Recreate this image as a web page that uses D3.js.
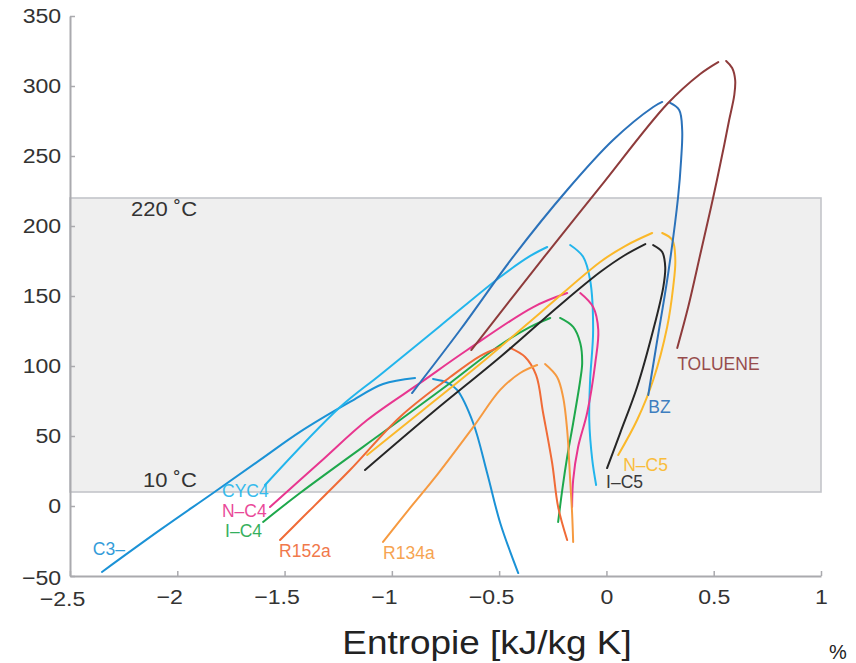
<!DOCTYPE html>
<html>
<head>
<meta charset="utf-8">
<script src="https://cdn.jsdelivr.net/npm/d3@7"></script>
<style>
  html, body { margin: 0; padding: 0; background: #fff; }
  svg { display: block; font-family: "Liberation Sans", Arial, Helvetica, sans-serif; }
</style>
</head>
<body>
<svg id="chart" width="856" height="663"></svg>
<script>
// ---------- data (entropy [kJ/kg K], temperature [°C]) ----------
const xTicks = [-2.5, -2, -1.5, -1, -0.5, 0, 0.5, 1];
const yTicks = [-50, 0, 50, 100, 150, 200, 250, 300, 350];
const bandTemps = [10, 220];
const bandLabels = ["10 ˚C", "220 ˚C"];

const c3Liquid = [[-2.351,-47.1],[-2.080,-17.1],[-1.833,9.3],[-1.614,32.9],[-1.428,52.9],[-1.195,74.3],[-1.041,87.1],[-0.892,91.4]];
const c3Vapor = [[-0.808,90.7],[-0.740,88],[-0.696,82.9],[-0.621,59.3],[-0.556,23.6],[-0.495,-12.1],[-0.411,-47.9]];

const cyc4Liquid = [[-1.591,15],[-1.241,70.7],[-1.055,93.6],[-0.775,128.6],[-0.495,163.6],[-0.355,178.6],[-0.276,185]];
const cyc4Vapor = [[-0.169,186.4],[-0.108,177.9],[-0.076,161.4],[-0.062,125.7],[-0.076,90],[-0.080,61.4],[-0.066,32.9],[-0.048,15]];

const nc4Liquid = [[-1.568,-0.7],[-1.334,31.4],[-1.115,61.4],[-0.868,87.9],[-0.649,111.4],[-0.341,142.1],[-0.183,152.1]];
const nc4Vapor = [[-0.122,152.1],[-0.062,142.1],[-0.038,125.7],[-0.052,102.1],[-0.090,66.4],[-0.132,42.1],[-0.155,18.6],[-0.160,-0.7]];

const ic4Liquid = [[-1.600,-11.4],[-1.428,9.3],[-0.962,61.4],[-0.728,87.9],[-0.495,115],[-0.355,127.9],[-0.262,134.3]];
const ic4Vapor = [[-0.216,134.3],[-0.155,127.9],[-0.122,116.4],[-0.113,102.1],[-0.122,90],[-0.155,59.3],[-0.183,35],[-0.206,11.4],[-0.225,-11.4]];

const r152aLiquid = [[-1.521,-24.3],[-1.428,-10],[-1.195,25.7],[-0.962,63.6],[-0.728,92.1],[-0.589,107.1],[-0.495,113.6]];
const r152aVapor = [[-0.449,112.9],[-0.379,106.4],[-0.328,93.6],[-0.295,66.4],[-0.253,30.7],[-0.225,-0.7],[-0.183,-24.3]];

const r134aLiquid = [[-1.041,-25.7],[-0.915,-1.4],[-0.808,18.6],[-0.621,56.4],[-0.495,82.9],[-0.402,95],[-0.323,100.7]];
const r134aVapor = [[-0.286,101.4],[-0.230,92.1],[-0.202,77.9],[-0.183,54.3],[-0.169,18.6],[-0.160,-5],[-0.155,-25.7]];

const nc5Liquid = [[-1.115,36.4],[-0.854,68.6],[-0.589,101.4],[-0.309,137.9],[-0.029,174.3],[0.087,185.7],[0.213,195]];
const nc5Vapor = [[0.260,195],[0.307,190],[0.321,175.7],[0.311,156.4],[0.283,127.9],[0.218,90],[0.143,61.4],[0.055,36.4]];

const ic5Liquid = [[-1.125,25.7],[-0.808,67.1],[-0.495,106.4],[-0.216,143.6],[-0.029,167.1],[0.087,179.3],[0.181,187.1]];
const ic5Vapor = [[0.218,186.4],[0.260,181.4],[0.274,170.7],[0.265,156.4],[0.218,125.7],[0.143,85],[0.064,52.1],[0.003,27.1]];

const bzLiquid = [[-0.906,80.7],[-0.682,125.7],[-0.435,177.9],[-0.183,225.7],[0.031,261.4],[0.218,285],[0.260,288.6]];
const bzVapor = [[0.297,287.9],[0.339,282.9],[0.353,268.6],[0.348,247.1],[0.334,220.7],[0.288,166.4],[0.237,118.6],[0.195,79.3]];

const tolLiquid = [[-0.630,111.4],[-0.276,180.7],[-0.029,227.9],[0.283,287.1],[0.437,308.6],[0.521,317.1]];
const tolVapor = [[0.558,317.9],[0.586,312.9],[0.600,304.3],[0.596,293.6],[0.572,275.7],[0.549,257.9],[0.498,220.7],[0.442,182.9],[0.381,142.1],[0.330,112.9]];

const fluidNames = ["C3–", "CYC4", "N–C4", "I–C4", "R152a", "R134a", "I–C5", "N–C5", "BZ", "TOLUENE"];

// ---------- presentation ----------
const fluids = [
  {name: fluidNames[0], liquid: c3Liquid,    vapor: c3Vapor,    color: "#1b92d6", at: "ls", dx: 23,  dy: -17, anchor: "end"},
  {name: fluidNames[1], liquid: cyc4Liquid,  vapor: cyc4Vapor,  color: "#22b5ec", at: "ls", dx: -43, dy: 12,  anchor: "start"},
  {name: fluidNames[2], liquid: nc4Liquid,   vapor: nc4Vapor,   color: "#e8368f", at: "ls", dx: -48, dy: 10,  anchor: "start"},
  {name: fluidNames[3], liquid: ic4Liquid,   vapor: ic4Vapor,   color: "#1ea84c", at: "ls", dx: -38, dy: 15,  anchor: "start"},
  {name: fluidNames[4], liquid: r152aLiquid, vapor: r152aVapor, color: "#f06b37", at: "ls", dx: -1,  dy: 17,  anchor: "start"},
  {name: fluidNames[5], liquid: r134aLiquid, vapor: r134aVapor, color: "#f69a40", at: "ls", dx: 0,   dy: 17,  anchor: "start"},
  {name: fluidNames[6], liquid: ic5Liquid,   vapor: ic5Vapor,   color: "#262626", at: "ve", dx: -1,  dy: 20,  anchor: "start"},
  {name: fluidNames[7], liquid: nc5Liquid,   vapor: nc5Vapor,   color: "#fbb829", at: "ve", dx: 5,   dy: 16,  anchor: "start"},
  {name: fluidNames[8], liquid: bzLiquid,    vapor: bzVapor,    color: "#2b72ba", at: "ve", dx: 0,   dy: 18,  anchor: "start"},
  {name: fluidNames[9], liquid: tolLiquid,   vapor: tolVapor,   color: "#8e3b3b", at: "ve", dx: 0,   dy: 22,  anchor: "start"}
];

const svg = d3.select("#chart");
const x = d3.scaleLinear().domain([-2.5, 1]).range([70, 821]);
const y = d3.scaleLinear().domain([-50, 350]).range([576, 16]);

// band
svg.append("rect")
  .attr("x", x(-2.5)).attr("y", y(bandTemps[1]))
  .attr("width", x(1) - x(-2.5)).attr("height", y(bandTemps[0]) - y(bandTemps[1]))
  .attr("fill", "#efefef").attr("stroke", "#c3c5ca").attr("stroke-width", 1.6);

svg.append("text").attr("transform", `translate(${x(-2.5) + 61},${y(bandTemps[1]) + 18}) scale(1.1,1)`)
  .attr("font-size", 20).attr("fill", "#333").text(bandLabels[1]);
svg.append("text").attr("transform", `translate(${x(-2.5) + 73},${y(bandTemps[0]) - 5}) scale(1.1,1)`)
  .attr("font-size", 20).attr("fill", "#333").text(bandLabels[0]);

// axes
const fmt = d => d < 0 ? "−" + Math.abs(d) : String(d);
const gx = svg.append("g").attr("transform", `translate(0,${y(-50)})`)
  .call(d3.axisBottom(x).tickValues(xTicks).tickFormat(fmt).tickSize(-5).tickSizeOuter(0).tickPadding(13));
const gy = svg.append("g").attr("transform", `translate(${x(-2.5)},0)`)
  .call(d3.axisLeft(y).tickValues(yTicks).tickFormat(fmt).tickSize(-5).tickSizeOuter(0).tickPadding(8));
[gx, gy].forEach(g => {
  g.select(".domain").attr("stroke", "#aaaaae").attr("stroke-width", 2);
  g.selectAll(".tick line").attr("stroke", "#aaaaae").attr("stroke-width", 1.5);
  g.selectAll(".tick text").attr("fill", "#333").attr("font-size", 21)
    .attr("font-family", "'Liberation Sans', Arial, sans-serif");
});
gx.selectAll(".tick text").attr("transform", d => `translate(${d < 0 ? -8 : 0},${d === -2.5 ? 2 : 0}) scale(1.1,1)`);
gy.selectAll(".tick text").attr("transform", d => `translate(0,${d === -50 ? 2 : 0}) scale(1.1,1)`);

// curves
const line = d3.line().x(d => x(d[0])).y(d => y(d[1])).curve(d3.curveCatmullRom.alpha(0.5));
const gc = svg.append("g");
fluids.forEach(f => {
  [f.liquid, f.vapor].forEach(branch => {
    gc.append("path").attr("d", line(branch)).attr("fill", "none")
      .attr("stroke", f.color).attr("stroke-width", 2).attr("stroke-linecap", "round");
  });
});

// labels
fluids.forEach(f => {
  const p = f.at === "ls" ? f.liquid[0] : f.vapor[f.vapor.length - 1];
  svg.append("text").attr("x", x(p[0]) + f.dx).attr("y", y(p[1]) + f.dy)
    .attr("text-anchor", f.anchor).attr("font-size", 17.5).attr("fill", f.color)
    .attr("opacity", 0.9).text(f.name);
});

// axis title
svg.append("text").attr("transform", `translate(487,654) scale(1.12,1)`)
  .attr("text-anchor", "middle").attr("font-size", 33).attr("fill", "#222")
  .text("Entropie [kJ/kg K]");
svg.append("text").attr("x", 829).attr("y", 659).attr("font-size", 20).attr("fill", "#222")
  .text("%");
</script>
</body>
</html>
